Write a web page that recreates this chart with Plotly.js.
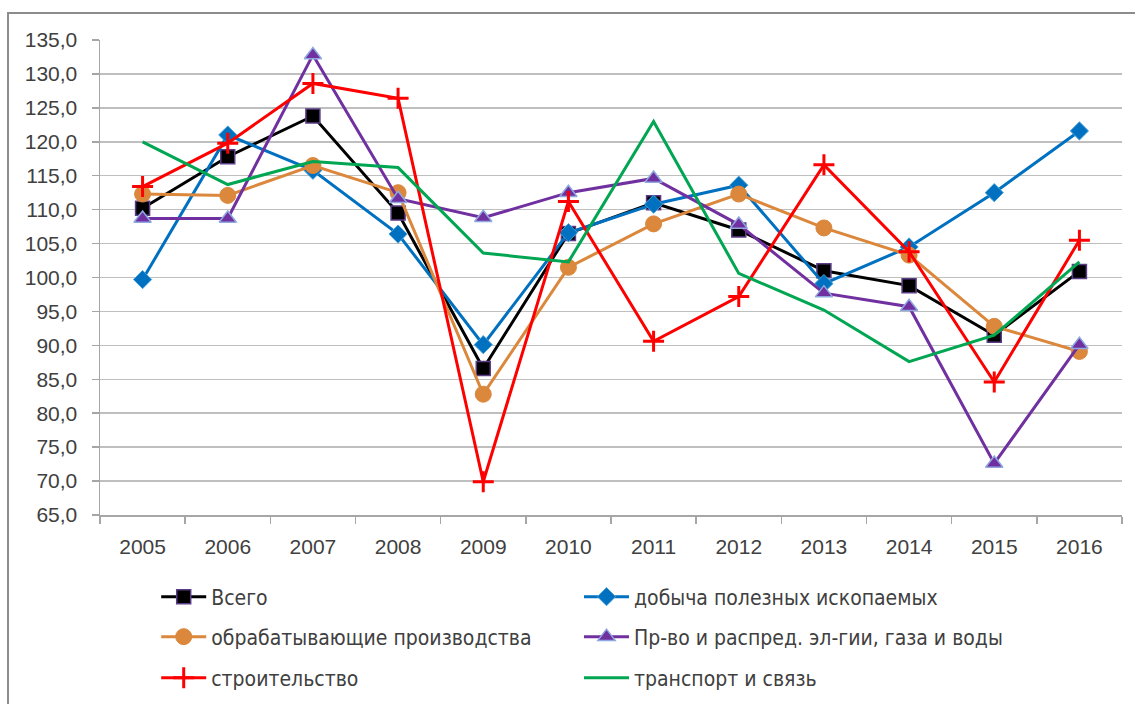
<!DOCTYPE html>
<html>
<head>
<meta charset="utf-8">
<script src="https://cdn.plot.ly/plotly-3.0.1.min.js"></script>
<style>
  html, body { margin: 0; padding: 0; background: #ffffff; }
  #chart { width: 1135px; height: 704px; }
</style>
</head>
<body>
<div id="chart"></div>
<script>
const years = ['2005','2006','2007','2008','2009','2010','2011','2012','2013','2014','2015','2016'];

const vsego      = [110.2, 117.8, 123.8, 109.5, 86.6, 106.5, 111.0, 107.0, 101.0, 98.8, 91.5, 100.9];
const dobycha    = [99.7, 121.0, 115.8, 106.4, 90.1, 106.6, 110.8, 113.6, 99.1, 104.5, 112.5, 121.6];
const obrab      = [112.3, 112.1, 116.5, 112.5, 82.8, 101.5, 107.9, 112.3, 107.3, 103.3, 92.8, 89.1];
const energy     = [108.7, 108.7, 132.8, 111.6, 108.8, 112.5, 114.6, 107.8, 97.7, 95.7, 72.6, 90.1];
const stroit     = [113.4, 119.8, 128.6, 126.4, 69.9, 111.2, 90.6, 97.2, 116.6, 103.8, 84.6, 105.5];
const transport  = [120.0, 113.7, 117.1, 116.2, 103.6, 102.3, 123.0, 100.6, 95.2, 87.6, 91.5, 102.3];

const names = [
  'Всего',
  'добыча полезных ископаемых',
  'обрабатывающие производства',
  'Пр-во и распред. эл-гии, газа и воды',
  'строительство',
  'транспорт и связь'
];

const traces = [
  {
    x: years, y: vsego, name: names[0], type: 'scatter', mode: 'lines+markers', legend: 'legend',
    line: {color: '#000000', width: 3},
    marker: {symbol: 'square', size: 14, color: '#000000', line: {color: '#5b3c86', width: 1.5}}
  },
  {
    x: years, y: dobycha, name: names[1], type: 'scatter', mode: 'lines+markers', legend: 'legend2',
    line: {color: '#0070C0', width: 3},
    marker: {symbol: 'diamond', size: 14, color: '#0070C0', line: {color: '#4aa3d8', width: 1}}
  },
  {
    x: years, y: obrab, name: names[2], type: 'scatter', mode: 'lines+markers', legend: 'legend3',
    line: {color: '#DB873C', width: 3},
    marker: {symbol: 'circle', size: 16, color: '#DB873C', line: {color: '#DB873C', width: 1}}
  },
  {
    x: years, y: energy, name: names[3], type: 'scatter', mode: 'lines+markers', legend: 'legend4',
    line: {color: '#7030A0', width: 3},
    marker: {symbol: 'triangle-up', size: 15, color: '#7030A0', line: {color: '#8fa8e0', width: 1.5}}
  },
  {
    x: years, y: stroit, name: names[4], type: 'scatter', mode: 'lines+markers', legend: 'legend5',
    line: {color: '#FF0000', width: 3},
    marker: {symbol: 'cross-thin', size: 15, color: '#FF0000', line: {color: '#FF0000', width: 3}}
  },
  {
    x: years, y: transport, name: names[5], type: 'scatter', mode: 'lines', legend: 'legend6',
    line: {color: '#00A651', width: 3}
  }
];

const legendFont = {family: 'DejaVu Sans Condensed, DejaVu Sans, sans-serif', size: 21, color: '#404040'};
function makeLegend(xPaper, yContainer) {
  return {
    orientation: 'h',
    xref: 'paper', x: xPaper, xanchor: 'left',
    yref: 'container', y: yContainer, yanchor: 'middle',
    itemwidth: 45,
    font: legendFont,
    bgcolor: 'rgba(0,0,0,0)'
  };
}

const tickFont = {family: 'Liberation Sans, Arial, sans-serif', size: 21, color: '#404040'};
const col1 = 0.055, col2 = 0.4687;

const layout = {
  width: 1135, height: 704,
  paper_bgcolor: '#ffffff', plot_bgcolor: '#ffffff',
  margin: {l: 100, r: 13, t: 40, b: 189},
  separators: ', ',
  font: {family: 'Liberation Sans, Arial, sans-serif', size: 20, color: '#404040'},
  showlegend: true,
  xaxis: {
    type: 'category',
    range: [-0.5, 11.5],
    showgrid: false,
    showline: true, linecolor: '#a6a6a6', linewidth: 1.5,
    ticks: 'outside', tickson: 'boundaries', ticklen: 7, tickcolor: '#a6a6a6', tickwidth: 1.5,
    ticklabelstandoff: 12,
    tickfont: tickFont,
    zeroline: false,
    fixedrange: true
  },
  yaxis: {
    range: [65, 135], dtick: 5, tick0: 65,
    tickformat: '.1f',
    showgrid: true, gridcolor: '#bfbfbf', gridwidth: 1.5,
    showline: true, linecolor: '#a6a6a6', linewidth: 1.5,
    ticks: 'outside', ticklen: 7, tickcolor: '#a6a6a6', tickwidth: 1.5,
    ticklabelstandoff: 10,
    tickfont: tickFont,
    zeroline: false,
    fixedrange: true
  },
  legend:  makeLegend(col1, 1 - 597 / 704),
  legend2: makeLegend(col2, 1 - 597 / 704),
  legend3: makeLegend(col1, 1 - 637 / 704),
  legend4: makeLegend(col2, 1 - 637 / 704),
  legend5: makeLegend(col1, 1 - 678 / 704),
  legend6: makeLegend(col2, 1 - 678 / 704),
  shapes: [
    {
      type: 'rect', xref: 'paper', yref: 'paper',
      x0: -0.090, x1: 1.05, y0: -0.45, y1: 1.0568,
      line: {color: '#8c8c8c', width: 2}, fillcolor: 'rgba(0,0,0,0)', layer: 'below'
    }
  ]
};

Plotly.newPlot('chart', traces, layout, {displayModeBar: false, staticPlot: true});
</script>
</body>
</html>
